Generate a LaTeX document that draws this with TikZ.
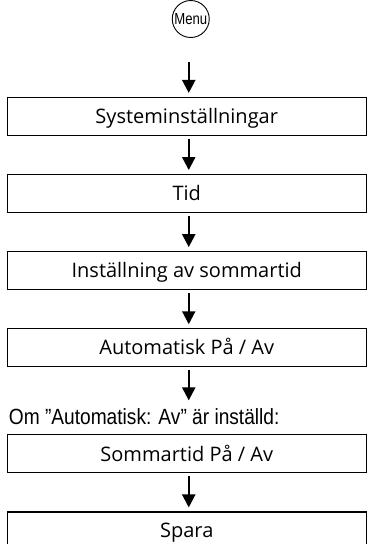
\documentclass[tikz,border=0pt]{standalone}
\usepackage{fontspec}
\usepackage{tikz}
\usetikzlibrary{positioning, arrows.meta}
\newfontfamily\boxfont{Open Sans}
\newfontfamily\narrowfont[FakeStretch=0.87]{Liberation Sans}
\newfontfamily\menufont[FakeStretch=0.82]{Liberation Sans}

\begin{document}
\begin{tikzpicture}[
            node distance=38pt,
            box/.style={draw=black, line width=1.1pt, minimum width=359pt, minimum height=38pt, inner sep=0pt, text height=14.3pt, text depth=0pt, align=center, font=\boxfont\fontsize{20}{24}\selectfont},
            menu/.style={draw=black, line width=0.9pt, circle, minimum size=37pt, inner sep=0pt, font=\menufont\fontsize{16}{18}\selectfont},
            note/.style={inner sep=0pt, font=\narrowfont\fontsize{22}{26}\selectfont},
            flow/.style={line width=2.2pt, -{Triangle[length=13pt, width=13pt]}, shorten <=3pt, shorten >=4pt}
        ]
            \useasboundingbox (0,0) rectangle (367pt,-544pt);

            \node[box] (system) at (186.75pt,-116.5pt) {Systeminställningar};
            \node[menu, above=59pt of system, xshift=4pt] (menu) {Menu};

            \node[box, below=of system] (time) {Tid};
            \node[box, below=of time] (summer) {Inställning av sommartid};
            \node[box, below=of summer] (auto) {Automatisk På / Av};

            \node[box, below=67pt of auto] (manual) {Sommartid På / Av};
            \node[note, above right=9pt and 2pt of manual.north west] (cond) {Om ”Automatisk: Av” är inställd:};

            \node[box, below=of manual, minimum height=36pt] (save) {Spara};

            \draw[flow, shorten <=24pt] ([xshift=-2pt]menu.south) -- ([xshift=2pt]system.north);
            \draw[flow] ([xshift=2pt]system.south) -- ([xshift=2pt]time.north);
            \draw[flow] ([xshift=2pt]time.south) -- ([xshift=2pt]summer.north);
            \draw[flow] ([xshift=2pt]summer.south) -- ([xshift=2pt]auto.north);
            \draw[flow, shorten >=34pt] ([xshift=2pt]auto.south) -- ([xshift=2pt]manual.north);
            \draw[flow] ([xshift=2pt]manual.south) -- ([xshift=2pt]save.north);

        \end{tikzpicture}
\end{document}
